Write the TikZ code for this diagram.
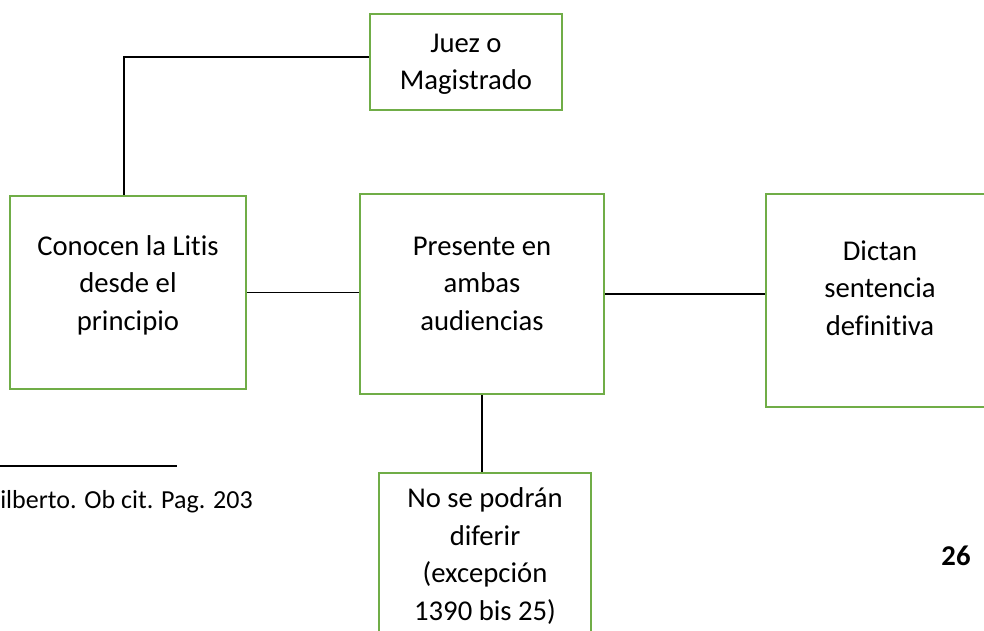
\documentclass[tikz,border=0pt]{standalone}
\usepackage{fontspec}
\setmainfont{Carlito}[Ligatures=NoCommon]
\definecolor{boxgreen}{HTML}{70AD47}
\tikzset{
  box/.style={draw=boxgreen, line width=2.1pt, rectangle, inner sep=0pt},
  txt/.style={align=center, font=\fontsize{21.5}{28.1}\selectfont, inner sep=0pt, anchor=base},
  link/.style={draw=black, line width=0.8pt},
}
\begin{document}
\begin{tikzpicture}[x=0.75pt,y=-0.75pt]
\useasboundingbox (0,0) rectangle (984,631);
% boxes
\node[box, minimum width=144pt, minimum height=72pt] (juez) at (466,62) {};
\node[box, minimum width=177pt, minimum height=144.75pt] (conocen) at (128,292.5) {};
\node[box, minimum width=183pt, minimum height=150pt] (presente) at (482,294) {};
\node[box, minimum width=171pt, minimum height=159.75pt] (dictan) at (880,300.5) {};
\node[box, minimum width=159pt, minimum height=132.75pt] (nose) at (485,561.5) {};
% texts (anchor base = baseline of the last line)
\node[txt] (jueztxt) at (466,90) {Juez o\\Magistrado};
\node[txt] (conocentxt) at (128,330) {Conocen la Litis\\desde el\\principio};
\node[txt] (presentetxt) at (482,330) {Presente en\\ambas\\audiencias};
\node[txt] (dictantxt) at (880,335) {Dictan\\sentencia\\definitiva};
\node[txt] (nosetxt) at (485,620) {No se podrán\\diferir\\(excepción\\1390 bis 25)};
% connectors
\coordinate (bend) at (124,57);
\draw[link] (bend -| juez.west) -- (bend) -- (bend |- conocen.north);
\draw[link] (conocen.east) -- (conocen.east -| presente.west);
\draw[link] (presente.east) -- (presente.east -| dictan.west);
\draw[link] (presente.south) -- (presente.south |- nose.north);
% footnote
\coordinate (fnl) at (0,466);
\coordinate (fnr) at (177,466);
\draw[line width=1.5pt] (fnl) -- (fnr);
\node[anchor=base west, inner sep=0pt, font=\fontsize{19.5}{24}\selectfont] (fntext) at (0,508) {ilberto. Ob cit. Pag. 203};
% page number
\node[anchor=base, inner sep=0pt, font=\fontsize{21.5}{26}\selectfont\bfseries] (pagenum) at (956,565) {26};
\end{tikzpicture}
\end{document}
